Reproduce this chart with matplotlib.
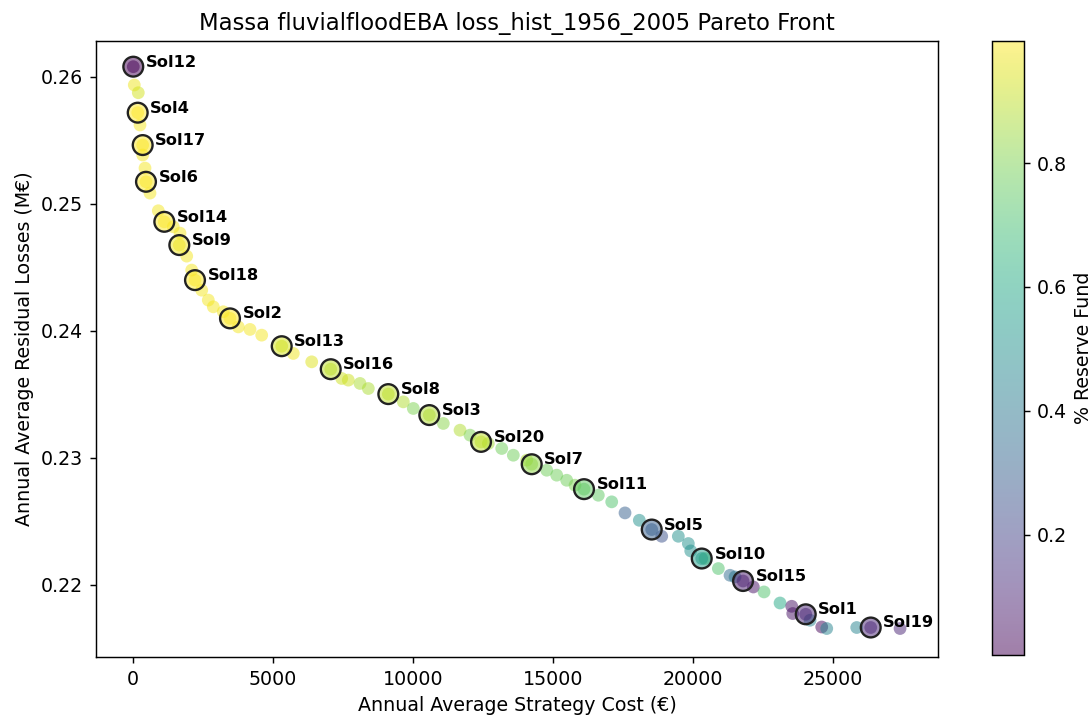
import matplotlib
matplotlib.use("Agg")
import matplotlib.pyplot as plt
import numpy as np

# every evaluated strategy on the front
cost = [46, 189, 250, 346, 429, 607, 904, 1439, 1679, 1918, 2096, 2454, 2689, 2868,
        3225, 3761, 4179, 4596, 5725, 6382, 7454, 7689, 8107, 8404, 9654, 10011,
        11082, 11679, 12036, 12689, 13168, 13582, 14061, 14775, 15132, 15489, 15786,
        16618, 17096, 17571, 18082, 18882, 19475, 19832, 19918, 20429, 20904, 21321,
        21500, 22154, 22536, 23107, 23525, 23561, 24179, 24596, 24775, 25846, 27393]
loss = [0.25935, 0.25874, 0.25620, 0.25384, 0.25281, 0.25084, 0.24945, 0.24819,
        0.24769, 0.24588, 0.24478, 0.24320, 0.24242, 0.24189, 0.24150, 0.24031,
        0.24011, 0.23966, 0.23822, 0.23756, 0.23625, 0.23612, 0.23586, 0.23546,
        0.23441, 0.23389, 0.23271, 0.23218, 0.23179, 0.23113, 0.23074, 0.23021,
        0.22982, 0.22903, 0.22864, 0.22824, 0.22785, 0.22706, 0.22654, 0.22567,
        0.22509, 0.22383, 0.22383, 0.22326, 0.22268, 0.22208, 0.22129, 0.22076,
        0.22063, 0.21984, 0.21945, 0.21858, 0.21832, 0.21775, 0.21722, 0.21669,
        0.21657, 0.21665, 0.21657]
reserve = [0.97, 0.93, 0.98, 0.98, 0.98, 0.98, 0.98, 0.98, 0.98, 0.98, 0.98, 0.98,
           0.98, 0.98, 0.98, 0.98, 0.98, 0.98, 0.97, 0.95, 0.92, 0.92, 0.87, 0.87,
           0.88, 0.80, 0.82, 0.88, 0.80, 0.86, 0.78, 0.78, 0.88, 0.78, 0.78, 0.78,
           0.80, 0.75, 0.72, 0.30, 0.50, 0.25, 0.50, 0.50, 0.50, 0.72, 0.72, 0.35,
           0.40, 0.05, 0.72, 0.60, 0.05, 0.05, 0.45, 0.02, 0.45, 0.45, 0.10]

# the selected solutions
sol_names = ["Sol12", "Sol4", "Sol17", "Sol6", "Sol14", "Sol9", "Sol18", "Sol2",
             "Sol13", "Sol16", "Sol8", "Sol3", "Sol20", "Sol7", "Sol11", "Sol5",
             "Sol10", "Sol15", "Sol1", "Sol19"]
sol_cost = [10, 168, 346, 464, 1118, 1654, 2214, 3464, 5311, 7061, 9118, 10582,
            12429, 14239, 16107, 18525, 20311, 21786, 24025, 26346]
sol_loss = [0.26079, 0.25717, 0.25462, 0.25173, 0.24858, 0.24675, 0.24399, 0.24098,
            0.23879, 0.23698, 0.23502, 0.23337, 0.23126, 0.22950, 0.22754, 0.22436,
            0.22208, 0.22031, 0.21769, 0.21665]
sol_reserve = [0.006, 0.997, 0.99, 0.99, 0.99, 0.97, 0.99, 0.99, 0.93, 0.90, 0.90,
               0.88, 0.90, 0.83, 0.75, 0.30, 0.55, 0.08, 0.10, 0.10]

all_x = cost + sol_cost
all_y = loss + sol_loss
all_c = reserve + sol_reserve
norm = plt.Normalize(min(all_c), max(all_c))
cmap = plt.get_cmap("viridis")

plt.rcParams["font.size"] = 10.5

fig = plt.figure(figsize=(1091 / 130, 717 / 130), dpi=130)
ax = fig.add_axes([0.088, 0.0837, 0.7718, 0.8591])
cax = fig.add_axes([0.9093, 0.0865, 0.0293, 0.8563])

sc = ax.scatter(all_x, all_y, c=all_c, cmap=cmap, norm=norm, alpha=0.5, s=50,
                linewidths=0)

# highlighted solutions: translucent fill, solid black ring
face = cmap(norm(np.array(sol_reserve)))
face[:, 3] = 0.5
ax.scatter(sol_cost, sol_loss, facecolors=face, edgecolors="#222222",
           s=120, linewidths=1.3)

for name, x, y in zip(sol_names, sol_cost, sol_loss):
    ax.annotate(name, (x, y), xytext=(7, 2.5), textcoords="offset points",
                ha="left", va="center", fontsize=9, fontweight="bold")

ax.set_xlim(-1321, 28750)
ax.set_ylim(0.21433, 0.26281)
ax.set_xticks([0, 5000, 10000, 15000, 20000, 25000])
ax.set_yticks([0.22, 0.23, 0.24, 0.25, 0.26])
ax.set_xlabel("Annual Average Strategy Cost (€)")
ax.set_ylabel("Annual Average Residual Losses (M€)")
ax.set_title("Massa fluvialfloodEBA loss_hist_1956_2005 Pareto Front", fontsize=12.6)

cb = fig.colorbar(sc, cax=cax)
cb.set_label("% Reserve Fund")

fig.savefig("out.png", dpi=130)
